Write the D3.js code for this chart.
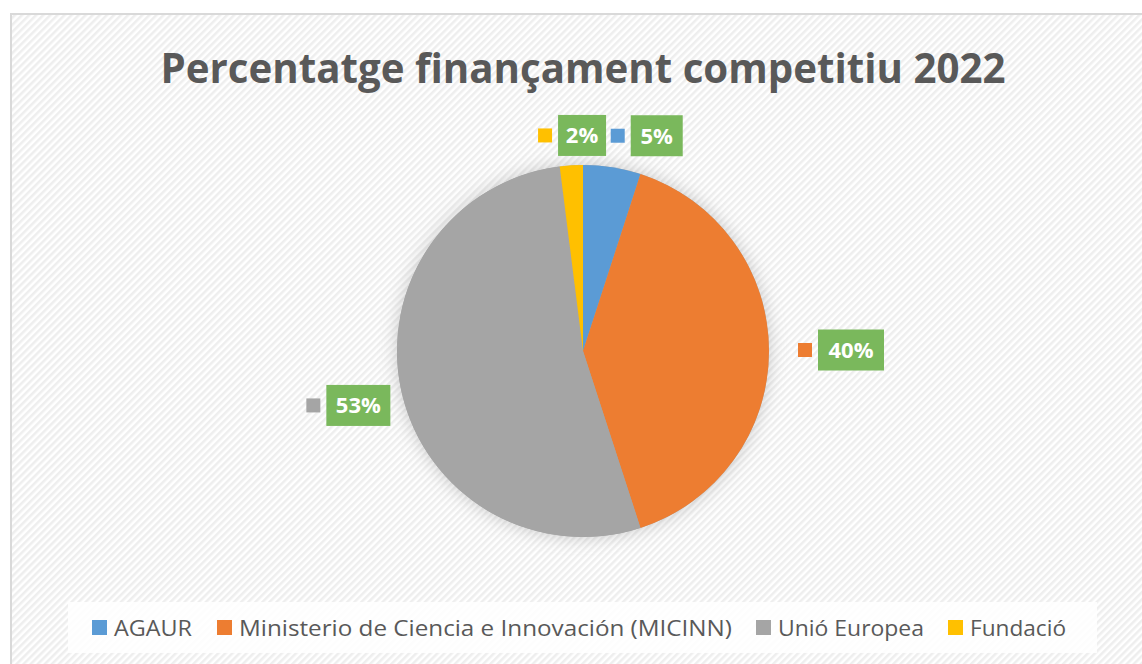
<!DOCTYPE html>
<html>
<head>
<meta charset="utf-8">
<script src="https://cdn.jsdelivr.net/npm/d3@7"></script>
<style>
  body { margin: 0; background: #fff; }
  svg { display: block; }
</style>
</head>
<body>
<div id="chart"></div>
<script>
const categories = ["AGAUR", "Ministerio de Ciencia e Innovación (MICINN)", "Unió Europea", "Fundació"];
const values = [5, 40, 53, 2];
const colors = ["#5b9bd5", "#ed7d31", "#a5a5a5", "#ffc000"];
const titleText = "Percentatge finançament competitiu 2022";

const totalWidth = 1142, totalHeight = 664;
const cx = 583, cy = 351, radius = 186;
const font = "'Open Sans', 'Noto Sans', sans-serif";

const svg = d3.select("#chart").append("svg")
    .attr("width", totalWidth)
    .attr("height", totalHeight);

const defs = svg.append("defs");

// diagonal stripes of the chart area
const pat = defs.append("pattern")
    .attr("id", "stripes")
    .attr("patternUnits", "userSpaceOnUse")
    .attr("width", 5)
    .attr("height", 5)
    .attr("patternTransform", "rotate(45)");
pat.append("rect").attr("width", 5).attr("height", 5).attr("fill", "#ffffff");
pat.append("rect").attr("width", 2.5).attr("height", 5).attr("fill", "#eeeeee");

const shadow = defs.append("filter")
    .attr("id", "glow")
    .attr("x", "-20%").attr("y", "-20%")
    .attr("width", "140%").attr("height", "140%");
shadow.append("feDropShadow")
    .attr("dx", 0).attr("dy", 0)
    .attr("stdDeviation", 9)
    .attr("flood-color", "#8c8c8c")
    .attr("flood-opacity", 0.45);

// frame
svg.append("rect")
    .attr("x", 11).attr("y", 14)
    .attr("width", totalWidth + 10).attr("height", totalHeight)
    .attr("fill", "url(#stripes)")
    .attr("stroke", "#d9d9d9")
    .attr("stroke-width", 2);

// title
svg.append("text")
    .attr("x", 583)
    .attr("y", 83)
    .attr("text-anchor", "middle")
    .attr("font-family", font)
    .attr("font-weight", "bold")
    .attr("font-size", 42)
    .attr("fill", "#595959")
    .attr("textLength", 845)
    .attr("lengthAdjust", "spacingAndGlyphs")
    .text(titleText);

// pie
const data = categories.map((c, i) => ({name: c, value: values[i], color: colors[i]}));
const pie = d3.pie().value(d => d.value).sort(null);
const arc = d3.arc().innerRadius(0).outerRadius(radius);
const labelArc = d3.arc().innerRadius(222).outerRadius(222);
const arcs = pie(data);

const g = svg.append("g").attr("transform", `translate(${cx},${cy})`);
g.append("circle").attr("r", radius).attr("fill", "#a5a5a5").attr("filter", "url(#glow)");
g.selectAll("path.slice")
    .data(arcs)
    .enter().append("path")
    .attr("class", "slice")
    .attr("d", arc)
    .attr("fill", d => d.data.color);

// data labels: key square + green box, placed off the slice centroid
const boxW = [52, 66, 64, 48];
const nudge = [[39, 4], [46, -1], [-8, 6], [13, 6]];
const lbl = g.append("g");
arcs.forEach((d, i) => {
    const [lx, ly] = labelArc.centroid(d);
    const px = lx + nudge[i][0];
    const py = ly + nudge[i][1];
    const w = boxW[i], h = 41;
    const bx = px - w / 2;
    lbl.append("rect")
        .attr("x", bx).attr("y", py - h / 2)
        .attr("width", w).attr("height", h)
        .attr("fill", "#7ab85c");
    lbl.append("rect")
        .attr("x", bx - 20).attr("y", py - 7)
        .attr("width", 14).attr("height", 14)
        .attr("fill", d.data.color);
    lbl.append("text")
        .attr("x", px)
        .attr("y", py + 8)
        .attr("text-anchor", "middle")
        .attr("font-family", font)
        .attr("font-weight", "bold")
        .attr("font-size", 22)
        .attr("fill", "#ffffff")
        .text(d3.format(".0f")(d.value) + "%");
});

// legend
svg.append("rect")
    .attr("x", 68).attr("y", 602)
    .attr("width", 1029).attr("height", 51)
    .attr("fill", "#ffffff")
    .attr("fill-opacity", 0.85);

const legendX = [92, 217, 756, 948];
const legendW = [78, 493, 146, 96];
const legend = svg.append("g");
data.forEach((d, i) => {
    legend.append("rect")
        .attr("x", legendX[i]).attr("y", 620)
        .attr("width", 15).attr("height", 15)
        .attr("fill", d.color);
    legend.append("text")
        .attr("x", legendX[i] + 22)
        .attr("y", 636)
        .attr("font-family", font)
        .attr("font-size", 22)
        .attr("fill", "#595959")
        .attr("textLength", legendW[i])
        .attr("lengthAdjust", "spacingAndGlyphs")
        .text(d.name);
});
</script>
</body>
</html>
